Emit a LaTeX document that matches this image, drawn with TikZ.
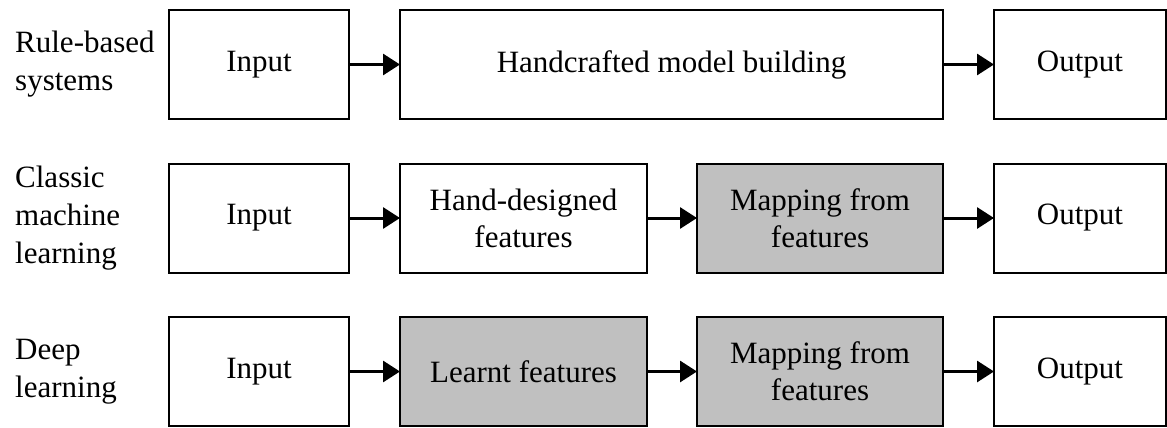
\documentclass[tikz,border=0pt]{standalone}
\usepackage{fontspec}
\setmainfont{Liberation Serif}
\usetikzlibrary{arrows.meta}
\definecolor{boxgray}{RGB}{192,192,192}
\tikzset{
  blk/.style={draw=black, line width=2pt, fill=white, minimum height=109pt, align=center, inner sep=0pt, font=\fontsize{31}{37}\selectfont},
  gblk/.style={blk, fill=boxgray},
  lbl/.style={anchor=west, align=left, inner sep=0pt, font=\fontsize{31}{38}\selectfont},
  conn/.style={line width=3pt, -{Triangle[length=17pt,width=21pt]}, shorten >=-1pt}
}
\begin{document}
\begin{tikzpicture}[x=1pt,y=-1pt]
\useasboundingbox (0,0) rectangle (1167,428);
% row 1
\node[lbl] (l1) at (15,64.5) {Rule-based\\systems};
\node[blk, minimum width=180pt] (i1) at (259,64.5) {Input};
\node[blk, minimum width=543pt] (h1) at (671.5,64.5) {Handcrafted model building};
\node[blk, minimum width=172pt] (o1) at (1080,64.5) {Output};
\draw[conn] (i1.east) -- (h1.west);
\draw[conn] (h1.east) -- (o1.west);
% row 2
\node[lbl] (l2) at (15,218) {Classic\\machine\\learning};
\node[blk, minimum width=180pt] (i2) at (259,218) {Input};
\node[blk, minimum width=247pt] (f2) at (523.5,218) {Hand-designed\\features};
\node[gblk, minimum width=246pt] (m2) at (820,218) {Mapping from\\features};
\node[blk, minimum width=172pt] (o2) at (1080,218) {Output};
\draw[conn] (i2.east) -- (f2.west);
\draw[conn] (f2.east) -- (m2.west);
\draw[conn] (m2.east) -- (o2.west);
% row 3
\node[lbl] (l3) at (15,371.5) {Deep\\learning};
\node[blk, minimum width=180pt] (i3) at (259,371.5) {Input};
\node[gblk, minimum width=247pt] (f3) at (523.5,371.5) {Learnt features};
\node[gblk, minimum width=246pt] (m3) at (820,371.5) {Mapping from\\features};
\node[blk, minimum width=172pt] (o3) at (1080,371.5) {Output};
\draw[conn] (i3.east) -- (f3.west);
\draw[conn] (f3.east) -- (m3.west);
\draw[conn] (m3.east) -- (o3.west);
\end{tikzpicture}
\end{document}
